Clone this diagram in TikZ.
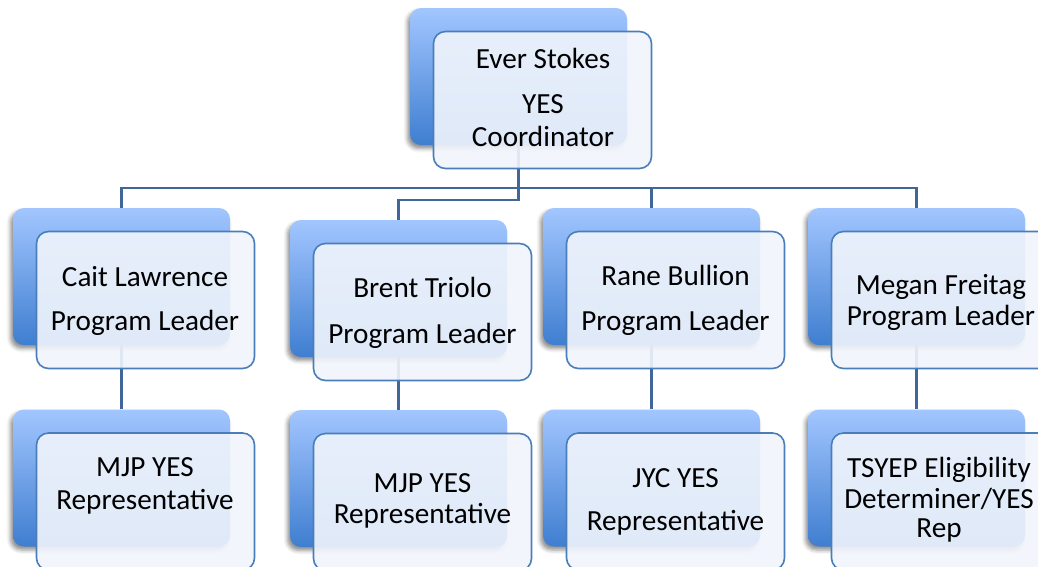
\documentclass[tikz,border=0pt]{standalone}
\usepackage{fontspec}
\setmainfont{Carlito}
\usetikzlibrary{shadows.blur}

\definecolor{backtop}{HTML}{A2C6FF}
\definecolor{backbot}{HTML}{3F7ED0}
\definecolor{frontfill}{HTML}{F1F5FC}
\definecolor{frontline}{HTML}{4A7EBB}
\definecolor{linkline}{HTML}{41679A}

\tikzset{
  backbox/.style={rectangle, rounded corners=11pt, minimum width=217pt,
    minimum height=137pt, inner sep=0pt, top color=backtop, bottom color=backbot,
    blur shadow={shadow xshift=-2.5pt, shadow yshift=-3.5pt,
      shadow blur radius=4pt, shadow opacity=45}},
  frontbox/.style={rectangle, rounded corners=12pt, minimum width=218pt,
    minimum height=137pt, inner sep=0pt, draw=frontline, line width=1.6pt,
    fill=frontfill, fill opacity=0.9},
  link/.style={draw=linkline, line width=2.2pt},
  lbl/.style={anchor=base, inner sep=0pt, font=\fontsize{29.2}{34}\selectfont, text=black},
}

% back card of a unit, centre given
\newcommand\backcard[3]{\node[backbox] (#1) at (#2,#3) {};}
% front card, offset from the back card
\newcommand\frontcard[2]{\node[frontbox] (#1) at ([xshift=24pt,yshift=-23.5pt]#2.center) {};}
% one line of text, centred on its baseline
\newcommand\txt[4]{\node[lbl] (#1) at (#2,#3) {#4};}

\begin{document}
\begin{tikzpicture}[x=1pt,y=-1pt]
\useasboundingbox (0,0) rectangle (1038,566);
\clip (0,0) rectangle (1038,566);

% back cards
\backcard{topb}{518.5}{76.5}
\backcard{caitb}{121.5}{276.5}
\backcard{brentb}{398.5}{288.5}
\backcard{raneb}{651.5}{276.5}
\backcard{meganb}{916.5}{276.5}
\backcard{caitrb}{121.5}{478}
\backcard{brentrb}{398.5}{478.5}
\backcard{ranerb}{651.5}{478}
\backcard{meganrb}{916.5}{478}

% connectors
\draw[link] (topb.south) -- ++(0,55) -| (brentb.north);
\draw[link] (caitb.north) -- ++(0,-20) -| (meganb.north);
\draw[link] (raneb.north) -- ++(0,-20);
\draw[link] (caitb.south) -- (caitrb.north);
\draw[link] (brentb.south) -- (brentrb.north);
\draw[link] (raneb.south) -- (ranerb.north);
\draw[link] (meganb.south) -- (meganrb.north);

% front cards
\frontcard{topf}{topb}
\frontcard{caitf}{caitb}
\frontcard{brentf}{brentb}
\frontcard{ranef}{raneb}
\frontcard{meganf}{meganb}
\frontcard{caitrf}{caitrb}
\frontcard{brentrf}{brentrb}
\frontcard{ranerf}{ranerb}
\frontcard{meganrf}{meganrb}

% texts
\txt{t1}{543}{68}{Ever Stokes}
\txt{t2}{543}{113}{YES}
\txt{t3}{543}{146}{Coordinator}

\txt{c1}{145}{286}{Cait Lawrence}
\txt{c2}{145}{330}{Program Leader}
\txt{b1}{422.5}{297}{Brent Triolo}
\txt{b2}{422.5}{343}{Program Leader}
\txt{r1}{675.5}{285}{Rane Bullion}
\txt{r2}{675.5}{330}{Program Leader}
\txt{m1}{941}{294}{Megan Freitag}
\txt{m2}{941}{325}{Program Leader}

\txt{cr1}{145}{476}{MJP YES}
\txt{cr2}{145}{509}{Representative}
\txt{br1}{422.5}{492}{MJP YES}
\txt{br2}{422.5}{523}{Representative}
\txt{rr1}{675.5}{487}{JYC YES}
\txt{rr2}{675.5}{530}{Representative}
\txt{mr1}{939}{477}{TSYEP Eligibility}
\txt{mr2}{939}{508}{Determiner/YES}
\txt{mr3}{939}{537}{Rep}
\end{tikzpicture}
\end{document}
